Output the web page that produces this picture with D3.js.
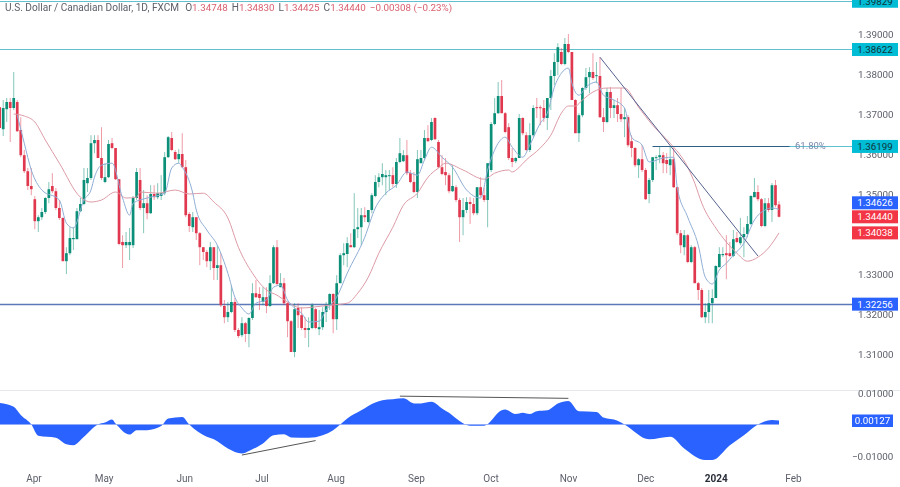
<!DOCTYPE html>
<html>
<head>
<meta charset="utf-8">
<script src="https://cdnjs.cloudflare.com/ajax/libs/d3/7.8.5/d3.min.js"></script>
<style>
  html, body { margin: 0; padding: 0; background: #fff; }
  svg { display: block; font-family: Roboto, sans-serif; filter: blur(0.35px); }
</style>
</head>
<body>
<svg id="chart" width="900" height="487"></svg>
<script>
// daily candles
var opens = [
1.3718,1.3663,1.3713,1.3731,1.3716,1.3731,1.3661,1.3598,1.3558,1.3521,
1.3488,1.3433,1.3443,1.3456,1.3491,1.3521,1.3508,1.3466,1.3441,1.3333,
1.3353,1.3388,1.3388,1.3458,1.3476,1.3528,1.3541,1.3628,1.3636,1.3591,
1.3531,1.3543,1.3628,1.3616,1.3538,1.3381,1.3373,1.3373,1.3373,1.3491,
1.3536,1.3466,1.3478,1.3453,1.3501,1.3493,1.3496,1.3503,1.3593,1.3641,
1.3606,1.3588,1.3601,1.3568,1.3451,1.3418,1.3443,1.3403,1.3368,1.3356,
1.3333,1.3368,1.3316,1.3323,1.3221,1.3193,1.3206,1.3231,1.3161,1.3148,
1.3178,1.3151,1.3191,1.3253,1.3251,1.3231,1.3243,1.3221,1.3278,1.3368,
1.3268,1.3278,1.3228,1.3183,1.3106,1.3216,1.3198,1.3166,1.3161,1.3166,
1.3213,1.3163,1.3168,1.3206,1.3223,1.3251,1.3188,1.3278,1.3348,1.3351,
1.3373,1.3368,1.3413,1.3418,1.3448,1.3431,1.3461,1.3496,1.3531,1.3543,
1.3543,1.3546,1.3548,1.3526,1.3581,1.3583,1.3598,1.3553,1.3531,1.3506,
1.3578,1.3591,1.3641,1.3636,1.3691,1.3631,1.3568,1.3556,1.3548,1.3508,
1.3518,1.3486,1.3443,1.3461,1.3481,1.3476,1.3453,1.3518,1.3498,1.3486,
1.3561,1.3676,1.3703,1.3746,1.3703,1.3668,1.3591,1.3583,1.3591,1.3691,
1.3648,1.3611,1.3648,1.3718,1.3718,1.3716,1.3691,1.3741,1.3796,1.3831,
1.3856,1.3826,1.3876,1.3856,1.3736,1.3653,1.3698,1.3766,1.3793,1.3806,
1.3796,1.3796,1.3693,1.3681,1.3756,1.3716,1.3723,1.3701,1.3688,1.3693,
1.3633,1.3616,1.3573,1.3588,1.3561,1.3501,1.3536,1.3591,1.3593,1.3598,
1.3586,1.3573,1.3588,1.3518,1.3403,1.3368,1.3398,1.3331,1.3368,1.3278,
1.3261,1.3193,1.3206,1.3228,1.3241,1.3318,1.3348,1.3353,1.3353,1.3346,
1.3391,1.3378,1.3393,1.3401,1.3426,1.3493,1.3506,1.3488,1.3421,1.3478,
1.3461,1.3523,1.34748]
var highs = [
1.3718,1.3736,1.3741,1.3741,1.3806,1.3736,1.3693,1.3611,1.3566,1.3566,
1.3496,1.3448,1.3466,1.3493,1.3531,1.3553,1.3516,1.3486,1.3443,1.3368,
1.3418,1.3418,1.3466,1.3491,1.3566,1.3566,1.3648,1.3648,1.3648,1.3668,
1.3578,1.3636,1.3641,1.3616,1.3538,1.3398,1.3406,1.3416,1.3496,1.3566,
1.3566,1.3511,1.3498,1.3523,1.3523,1.3528,1.3548,1.3606,1.3646,1.3656,
1.3611,1.3613,1.3653,1.3586,1.3456,1.3456,1.3443,1.3406,1.3368,1.3361,
1.3381,1.3368,1.3373,1.3353,1.3236,1.3231,1.3273,1.3241,1.3166,1.3193,
1.3181,1.3193,1.3278,1.3286,1.3268,1.3268,1.3268,1.3298,1.3373,1.3386,
1.3303,1.3291,1.3231,1.3186,1.3228,1.3228,1.3218,1.3193,1.3193,1.3228,
1.3216,1.3211,1.3218,1.3231,1.3253,1.3253,1.3298,1.3353,1.3378,1.3393,
1.3403,1.3503,1.3466,1.3466,1.3468,1.3461,1.3503,1.3548,1.3553,1.3578,
1.3561,1.3561,1.3568,1.3591,1.3641,1.3611,1.3636,1.3561,1.3556,1.3611,
1.3611,1.3661,1.3673,1.3691,1.3693,1.3636,1.3598,1.3591,1.3553,1.3573,
1.3523,1.3491,1.3491,1.3493,1.3493,1.3491,1.3518,1.3543,1.3516,1.3578,
1.3681,1.3741,1.3781,1.3786,1.3706,1.3678,1.3616,1.3593,1.3701,1.3693,
1.3656,1.3678,1.3723,1.3741,1.3723,1.3736,1.3741,1.3811,1.3853,1.3878,
1.3866,1.3891,1.3901,1.3856,1.3738,1.3703,1.3768,1.3816,1.3818,1.3853,
1.3831,1.3843,1.3716,1.3766,1.3768,1.3736,1.3741,1.3766,1.3716,1.3698,
1.3648,1.3618,1.3591,1.3623,1.3566,1.3541,1.3593,1.3598,1.3621,1.3606,
1.3603,1.3621,1.3616,1.3518,1.3411,1.3411,1.3401,1.3373,1.3371,1.3281,
1.3266,1.3228,1.3261,1.3263,1.3323,1.3368,1.3368,1.3398,1.3381,1.3411,
1.3406,1.3441,1.3418,1.3446,1.3498,1.3541,1.3523,1.3491,1.3491,1.3491,
1.3528,1.3536,1.3483]
var lows = [
1.3666,1.3646,1.3681,1.3631,1.3711,1.3656,1.3593,1.3553,1.3511,1.3498,
1.3413,1.3406,1.3436,1.3451,1.3478,1.3503,1.3461,1.3436,1.3333,1.3301,
1.3348,1.3361,1.3388,1.3456,1.3473,1.3506,1.3536,1.3603,1.3591,1.3536,
1.3528,1.3541,1.3613,1.3536,1.3373,1.3316,1.3366,1.3336,1.3366,1.3486,
1.3461,1.3403,1.3438,1.3451,1.3486,1.3488,1.3486,1.3498,1.3591,1.3608,
1.3586,1.3578,1.3566,1.3443,1.3406,1.3406,1.3386,1.3323,1.3336,1.3318,
1.3311,1.3286,1.3286,1.3218,1.3178,1.3181,1.3203,1.3156,1.3141,1.3143,
1.3131,1.3118,1.3186,1.3241,1.3211,1.3223,1.3203,1.3218,1.3276,1.3273,
1.3268,1.3223,1.3143,1.3106,1.3093,1.3166,1.3161,1.3141,1.3118,1.3163,
1.3163,1.3148,1.3161,1.3181,1.3211,1.3153,1.3161,1.3278,1.3323,1.3318,
1.3368,1.3366,1.3391,1.3373,1.3431,1.3428,1.3453,1.3493,1.3518,1.3523,
1.3498,1.3511,1.3518,1.3516,1.3578,1.3581,1.3548,1.3528,1.3503,1.3491,
1.3578,1.3586,1.3631,1.3633,1.3636,1.3566,1.3548,1.3523,1.3503,1.3506,
1.3481,1.3381,1.3398,1.3453,1.3426,1.3448,1.3448,1.3493,1.3481,1.3418,
1.3556,1.3673,1.3701,1.3703,1.3653,1.3586,1.3568,1.3578,1.3591,1.3648,
1.3608,1.3606,1.3643,1.3691,1.3673,1.3681,1.3661,1.3711,1.3773,1.3798,
1.3823,1.3823,1.3853,1.3736,1.3653,1.3631,1.3693,1.3761,1.3753,1.3786,
1.3778,1.3691,1.3656,1.3678,1.3691,1.3691,1.3681,1.3681,1.3643,1.3618,
1.3593,1.3568,1.3541,1.3556,1.3486,1.3478,1.3531,1.3561,1.3578,1.3553,
1.3553,1.3548,1.3516,1.3398,1.3353,1.3348,1.3328,1.3328,1.3278,1.3236,
1.3191,1.3178,1.3178,1.3178,1.3241,1.3318,1.3343,1.3288,1.3343,1.3343,
1.3378,1.3373,1.3343,1.3393,1.3423,1.3493,1.3483,1.3418,1.3418,1.3456,
1.3431,1.3468,1.34425]
var closes = [
1.3666,1.3716,1.3731,1.3716,1.3741,1.3658,1.3598,1.3558,1.3521,1.3513,
1.3433,1.3443,1.3456,1.3491,1.3513,1.3508,1.3466,1.3441,1.3333,1.3353,
1.3391,1.3391,1.3458,1.3476,1.3536,1.3541,1.3628,1.3636,1.3591,1.3541,
1.3543,1.3626,1.3616,1.3538,1.3376,1.3373,1.3381,1.3381,1.3491,1.3556,
1.3466,1.3478,1.3453,1.3501,1.3493,1.3503,1.3503,1.3593,1.3643,1.3611,
1.3588,1.3601,1.3568,1.3448,1.3421,1.3443,1.3403,1.3368,1.3356,1.3333,
1.3368,1.3316,1.3323,1.3223,1.3193,1.3206,1.3231,1.3161,1.3146,1.3178,
1.3151,1.3191,1.3253,1.3243,1.3241,1.3243,1.3221,1.3278,1.3368,1.3276,
1.3278,1.3228,1.3183,1.3106,1.3213,1.3198,1.3166,1.3161,1.3166,1.3223,
1.3166,1.3168,1.3206,1.3223,1.3251,1.3188,1.3278,1.3348,1.3353,1.3378,
1.3368,1.3413,1.3418,1.3448,1.3443,1.3461,1.3498,1.3531,1.3543,1.3551,
1.3548,1.3548,1.3526,1.3581,1.3603,1.3598,1.3553,1.3531,1.3506,1.3588,
1.3591,1.3641,1.3633,1.3681,1.3638,1.3568,1.3551,1.3548,1.3508,1.3521,
1.3486,1.3443,1.3461,1.3481,1.3476,1.3453,1.3518,1.3498,1.3486,1.3578,
1.3676,1.3703,1.3746,1.3703,1.3656,1.3591,1.3581,1.3591,1.3691,1.3653,
1.3611,1.3648,1.3716,1.3716,1.3716,1.3691,1.3741,1.3796,1.3831,1.3868,
1.3826,1.3876,1.3856,1.3736,1.3653,1.3698,1.3766,1.3793,1.3806,1.3791,
1.3798,1.3693,1.3681,1.3756,1.3716,1.3723,1.3701,1.3688,1.3693,1.3623,
1.3616,1.3573,1.3588,1.3561,1.3488,1.3536,1.3593,1.3593,1.3598,1.3578,
1.3576,1.3588,1.3518,1.3403,1.3373,1.3398,1.3331,1.3368,1.3278,1.3261,
1.3193,1.3206,1.3228,1.3241,1.3321,1.3351,1.3351,1.3348,1.3346,1.3388,
1.3381,1.3393,1.3401,1.3426,1.3496,1.3506,1.3488,1.3421,1.3478,1.3461,
1.3523,1.3473,1.3444]

// moving averages, bar index and value
var fastIdx = [5,7,9,12,17,19,21,24,26,27,29,32,35,37,38,42,47,49,51,52,55,56,59,62,65,67,69,71,73,76,78,80,82,84,86,88,91,93,96,99,104,107,110,113,116,119,121,123,126,129,133,137,139,142,144,146,149,151,154,156,158,160,162,163,165,167,170,172,175,178,180,183,185,189,192,193,196,199,201,203,205,207,209,212,215,218,220,222]
var fastVal = [1.3698,1.3628,1.3561,1.3511,1.3486,1.3428,1.3416,1.3486,1.3511,1.3543,1.3573,1.3578,1.3491,1.3448,1.3478,1.3491,1.3503,1.3566,1.3578,1.3568,1.3503,1.3461,1.3411,1.3373,1.3303,1.3243,1.3216,1.3201,1.3228,1.3236,1.3268,1.3273,1.3236,1.3216,1.3203,1.3181,1.3183,1.3211,1.3243,1.3303,1.3393,1.3466,1.3503,1.3523,1.3556,1.3548,1.3586,1.3618,1.3593,1.3568,1.3511,1.3491,1.3561,1.3628,1.3643,1.3618,1.3593,1.3623,1.3678,1.3703,1.3768,1.3803,1.3816,1.3778,1.3748,1.3768,1.3781,1.3748,1.3736,1.3716,1.3643,1.3623,1.3581,1.3591,1.3593,1.3518,1.3443,1.3373,1.3293,1.3276,1.3311,1.3328,1.3348,1.3378,1.3436,1.3461,1.3466,1.34626]
var slowIdx = [4,7,10,13,17,23,26,29,33,36,39,40,45,50,54,58,61,65,68,72,76,79,82,86,89,94,99,102,105,108,112,115,119,122,125,127,132,138,141,145,146,148,150,154,157,160,162,164,166,169,173,178,182,186,191,196,198,200,204,207,210,213,216,219,222]
var slowVal = [1.3701,1.3696,1.3681,1.3636,1.3578,1.3493,1.3481,1.3486,1.3506,1.3491,1.3493,1.3506,1.3503,1.3511,1.3501,1.3503,1.3481,1.3441,1.3368,1.3303,1.3261,1.3248,1.3231,1.3216,1.3218,1.3223,1.3228,1.3253,1.3293,1.3353,1.3418,1.3473,1.3503,1.3543,1.3566,1.3578,1.3561,1.3538,1.3553,1.3561,1.3556,1.3568,1.3586,1.3616,1.3648,1.3703,1.3721,1.3721,1.3736,1.3756,1.3766,1.3766,1.3718,1.3673,1.3628,1.3568,1.3528,1.3478,1.3416,1.3381,1.3353,1.3333,1.3343,1.3366,1.34038]

// lower pane oscillator
var oscIdx = [0,4,6,9,11,16,19,21,24,28,30,32,33,37,39,42,46,48,52,54,59,61,65,69,71,75,78,81,83,88,92,95,97,99,103,105,109,112,115,118,120,123,126,128,131,134,138,143,144,147,149,151,153,156,159,162,165,170,172,176,178,185,191,195,201,203,208,212,216,220,222]
var oscVal = [0.0068,0.0056,0.0030,0,-0.0036,-0.0042,-0.0063,-0.0066,-0.0039,0,0.0006,0.0016,0.0003,-0.0032,-0.0018,-0.0018,-0.0005,0.0019,0.0024,0,-0.0039,-0.0047,-0.0076,-0.0092,-0.0084,-0.0060,-0.0034,-0.0031,-0.0041,-0.0042,-0.0034,-0.0018,0,0.0019,0.0045,0.0059,0.0077,0.0080,0.0083,0.0067,0.0067,0.0072,0.0051,0.0037,0.0011,-0.0004,-0.0004,0.0045,0.0048,0.0033,0.0037,0.0033,0.0042,0.0045,0.0067,0.0075,0.0042,0.0040,0.0022,0.0012,0,-0.0047,-0.0039,-0.0076,-0.0113,-0.0113,-0.0066,-0.0034,0,0.0014,0.00127]

// axes
var priceTicks = [1.39, 1.38, 1.37, 1.36, 1.35, 1.33, 1.32, 1.31]
var oscTicks = [0.01, -0.01]
var monthIdx = [9.6, 29.6, 52.6, 74.6, 95.7, 118.6, 139.8, 161.9, 183.9, 204, 226]
var monthLabels = ["Apr", "May", "Jun", "Jul", "Aug", "Sep", "Oct", "Nov", "Dec", "2024", "Feb"]

// horizontal levels and their price labels
var levelPrices = [1.39829, 1.38622, 1.32256]
var levelColors = ["#62c1ce", "#62c1ce", "#5b78b8"]
var tagPrices = [1.39829, 1.38622, 1.36199, 1.34626, 1.3444, 1.34038, 1.32256]
var tagFills = ["#00bcd4", "#00bcd4", "#00bcd4", "#2962ff", "#f23645", "#f23645", "#2962ff"]
var tagInk = ["#12333a", "#12333a", "#12333a", "#fff", "#fff", "#fff", "#fff"]

// hand drawn lines
var trendIdx = [171, 216], trendVal = [1.3843, 1.3346]
var fibPrice = 1.36199, fibFrom = 186, fibTo = 225
var divLowIdx = [69, 90], divLowVal = [-0.0097, -0.0051]
var divHighIdx = [114, 162], divHighVal = [0.0090, 0.0083]

var axisX = 852
var svg = d3.select("#chart")

var x = d3.scaleLinear().domain([0, 222]).range([-0.3, 779])
var y = d3.scaleLinear().domain([1.3986, 1.3086]).range([0, 360])
var yOsc = d3.scaleLinear().domain([0.01, -0.01]).range([393, 456])

var GREEN = "#0b8f78", RED = "#e0394f"

// oscillator
var oscPts = oscIdx.map(function (d, i) { return [d, oscVal[i]] })
svg.append("path")
    .attr("d", d3.area()
        .x(function (d) { return x(d[0]) })
        .y0(yOsc(0))
        .y1(function (d) { return yOsc(d[1]) })
        .curve(d3.curveMonotoneX)(oscPts))
    .attr("fill", "#2962ff")
svg.append("line")
    .attr("x1", 0).attr("x2", x(222))
    .attr("y1", yOsc(0)).attr("y2", yOsc(0))
    .attr("stroke", "#8fa9f5").attr("stroke-width", 0.8)

var pair = d3.line()
    .x(function (d) { return x(d[0]) })
    .y(function (d) { return yOsc(d[1]) })
svg.append("path").attr("d", pair(d3.zip(divLowIdx, divLowVal)))
    .attr("fill", "none").attr("stroke", "#555").attr("stroke-width", 1)
svg.append("path").attr("d", pair(d3.zip(divHighIdx, divHighVal)))
    .attr("fill", "none").attr("stroke", "#555").attr("stroke-width", 1)

// pane divider
svg.append("line")
    .attr("x1", 0).attr("x2", 900).attr("y1", 390.5).attr("y2", 390.5)
    .attr("stroke", "#e6e7ea")

// levels, kept on whole pixels so they stay crisp
var levelY = function (d) { return Math.max(Math.floor(y(d)) + 0.5, 1) }
svg.selectAll(".level")
    .data(levelPrices)
    .enter()
    .append("line")
    .attr("class", "level")
    .attr("x1", 0).attr("x2", axisX)
    .attr("y1", levelY)
    .attr("y2", levelY)
    .attr("stroke", function (d, i) { return levelColors[i] })
    .attr("stroke-width", function (d, i) { return i == 2 ? 1.5 : 1 })

// wicks
var bars = d3.range(opens.length)
svg.append("g").selectAll("line")
    .data(bars)
    .enter()
    .append("line")
    .attr("x1", function (i) { return x(i) })
    .attr("x2", function (i) { return x(i) })
    .attr("y1", function (i) { return y(highs[i]) })
    .attr("y2", function (i) { return y(lows[i]) })
    .attr("stroke", function (i) { return closes[i] >= opens[i] ? GREEN : RED })
    .attr("stroke-opacity", 0.5)
    .attr("stroke-width", 1)

// bodies
svg.append("g").selectAll("rect")
    .data(bars)
    .enter()
    .append("rect")
    .attr("x", function (i) { return x(i) - 1.35 })
    .attr("width", 2.7)
    .attr("y", function (i) { return y(Math.max(opens[i], closes[i])) })
    .attr("height", function (i) { return Math.max(1, Math.abs(y(opens[i]) - y(closes[i]))) })
    .attr("fill", function (i) { return closes[i] >= opens[i] ? GREEN : RED })

// moving averages
var maLine = d3.line()
    .x(function (d) { return x(d[0]) })
    .y(function (d) { return y(d[1]) })
    .curve(d3.curveMonotoneX)
svg.append("path").attr("d", maLine(d3.zip(slowIdx, slowVal)))
    .attr("fill", "none").attr("stroke", "#dc9aa6").attr("stroke-width", 1)
svg.append("path").attr("d", maLine(d3.zip(fastIdx, fastVal)))
    .attr("fill", "none").attr("stroke", "#8fadd4").attr("stroke-width", 1)

// trend line and fib level
svg.append("line")
    .attr("x1", x(trendIdx[0])).attr("y1", y(trendVal[0]))
    .attr("x2", x(trendIdx[1])).attr("y2", y(trendVal[1]))
    .attr("stroke", "#56628f").attr("stroke-width", 1)
svg.append("line")
    .attr("x1", x(fibFrom)).attr("x2", axisX)
    .attr("y1", levelY(fibPrice)).attr("y2", levelY(fibPrice))
    .attr("stroke", "#62c1ce").attr("stroke-width", 1)
svg.append("line")
    .attr("x1", x(fibFrom)).attr("x2", x(fibTo))
    .attr("y1", levelY(fibPrice)).attr("y2", levelY(fibPrice))
    .attr("stroke", "#2e5f86").attr("stroke-width", 1)
svg.append("text")
    .attr("x", 795).attr("y", y(fibPrice) + 3)
    .attr("font-size", 9.5).attr("fill", "#7c88ad")
    .text("61.80%")

// price axis
var priceAxis = d3.axisRight(y)
    .tickValues(priceTicks)
    .tickFormat(d3.format(".5f"))
    .tickSize(0)
    .tickPadding(0)
var gp = svg.append("g").attr("transform", "translate(858,0)").call(priceAxis)
gp.select(".domain").remove()
gp.selectAll("text").attr("font-size", 9.8).attr("fill", "#5d606b").attr("font-family", "Roboto, sans-serif")

var oscAxis = d3.axisRight(yOsc)
    .tickValues(oscTicks)
    .tickFormat(function (d) { return d3.format(".5f")(d).replace("-", "\u2212") })
    .tickSize(0)
    .tickPadding(0)
var go = svg.append("g").attr("transform", "translate(858,0)").call(oscAxis)
go.select(".domain").remove()
go.selectAll("text").attr("font-size", 9.8).attr("fill", "#5d606b").attr("font-family", "Roboto, sans-serif")
    .attr("x", function (d) { return d < 0 ? -6 : 0 })

// time axis
var timeAxis = d3.axisBottom(x)
    .tickValues(monthIdx)
    .tickFormat(function (d, i) { return monthLabels[i] })
    .tickSize(0)
    .tickPadding(0)
var gt = svg.append("g").attr("transform", "translate(0,479)").call(timeAxis)
gt.select(".domain").remove()
gt.selectAll("text")
    .attr("y", 0).attr("dy", "0.32em")
    .attr("font-size", 10).attr("font-family", "Roboto, sans-serif")
    .attr("font-weight", function (d, i) { return monthLabels[i] == "2024" ? 700 : 400 })
    .attr("fill", function (d, i) { return monthLabels[i] == "2024" ? "#2a2e39" : "#5d606b" })

// price tags, pushed apart when they would overlap
var tagY = tagPrices.map(function (d) { return y(d) })
for (var k = tagY.length - 2; k >= 0; k--) {
    if (tagY[k + 1] - tagY[k] < 14 && tagY[k + 1] - tagY[k] > 0) tagY[k] = tagY[k + 1] - 14
}
var tags = svg.append("g").selectAll("g")
    .data(tagPrices)
    .enter()
    .append("g")
    .attr("transform", function (d, i) { return "translate(" + axisX + "," + tagY[i] + ")" })
tags.append("rect")
    .attr("x", 0).attr("y", -6.5).attr("width", 46).attr("height", 13)
    .attr("fill", function (d, i) { return tagFills[i] })
tags.append("text")
    .attr("x", 23).attr("dy", "0.35em").attr("text-anchor", "middle")
    .attr("font-size", 9.8)
    .attr("fill", function (d, i) { return tagInk[i] })
    .text(function (d) { return d3.format(".5f")(d) })

// oscillator tag
var oscLast = oscVal[oscVal.length - 1]
svg.append("rect")
    .attr("x", axisX).attr("y", yOsc(oscLast) - 6).attr("width", 41).attr("height", 12.5)
    .attr("fill", "#2962ff")
svg.append("text")
    .attr("x", axisX + 20.5).attr("y", yOsc(oscLast)).attr("dy", "0.35em")
    .attr("text-anchor", "middle").attr("font-size", 9.8).attr("fill", "#fff")
    .text(d3.format(".5f")(oscLast))

// header
var head = svg.append("text").attr("x", 5).attr("y", 10.5).attr("font-size", 10.1).attr("fill", "#5d606b")
head.append("tspan").text("U.S. Dollar / Canadian Dollar, 1D, FXCM")
var headLabels = ["O", "H", "L", "C"]
var headValues = ["1.34748", "1.34830", "1.34425", "1.34440"]
headLabels.forEach(function (d, i) {
    head.append("tspan").attr("dx", i == 0 ? 6 : 4).text(d)
    head.append("tspan").attr("fill", "#d9616f").attr("font-size", 9.8).text(headValues[i])
})
head.append("tspan").attr("dx", 4).attr("fill", "#d9616f").attr("font-size", 9.8).text("\u22120.00308 (\u22120.23%)")
</script>
</body>
</html>
